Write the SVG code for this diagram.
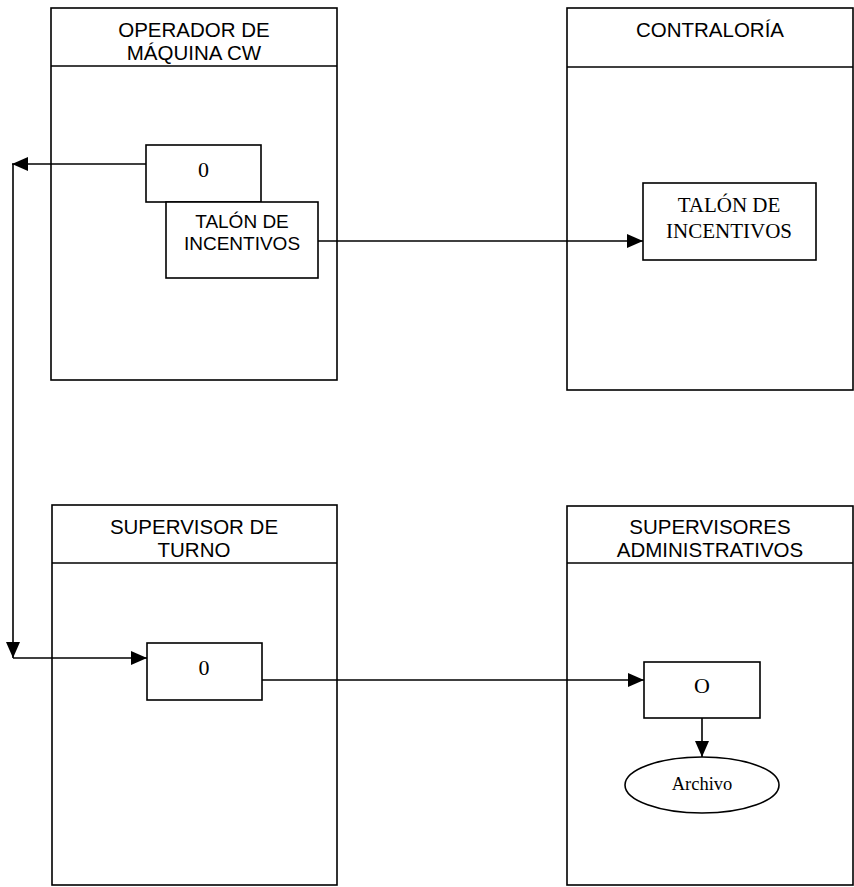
<svg xmlns="http://www.w3.org/2000/svg" width="854" height="887" viewBox="0 0 854 887">
<defs>
<marker id="ah" viewBox="0 0 16 14" refX="16" refY="7" markerWidth="16" markerHeight="14" markerUnits="userSpaceOnUse" orient="auto">
<path d="M0,0 L16,7 L0,14 Z" fill="#000"/>
</marker>
</defs>
<style>
.pan{fill:#fff;stroke:#000;stroke-width:1.6}
.box{fill:#fff;stroke:#000;stroke-width:1.6}
.hd{font-family:"Liberation Sans",Arial,sans-serif;font-size:20.5px;text-anchor:middle;fill:#000}
.sa{font-family:"Liberation Sans",Arial,sans-serif;font-size:19px;text-anchor:middle;fill:#000}
.tm{font-family:"Liberation Serif","Times New Roman",serif;text-anchor:middle;fill:#000}
.ln{fill:none;stroke:#000;stroke-width:1.6}
</style>
<rect width="854" height="887" fill="#fff"/>
<g id="lane-operador">
<rect class="pan" x="51" y="8" width="286" height="372"/>
<line class="ln" x1="51" y1="66" x2="337" y2="66"/>
<text class="hd" x="194" y="37">OPERADOR DE</text>
<text class="hd" x="194" y="60">MÁQUINA CW</text>
</g>
<g id="lane-contraloria">
<rect class="pan" x="567" y="8" width="286" height="382"/>
<line class="ln" x1="567" y1="67" x2="853" y2="67"/>
<text class="hd" x="710" y="37">CONTRALORÍA</text>
</g>
<g id="lane-supervisor-turno">
<rect class="pan" x="52" y="505" width="285" height="380"/>
<line class="ln" x1="52" y1="563" x2="337" y2="563"/>
<text class="hd" x="194" y="534">SUPERVISOR DE</text>
<text class="hd" x="194" y="557">TURNO</text>
</g>
<g id="lane-supervisores-adm">
<rect class="pan" x="567" y="506" width="286" height="379"/>
<line class="ln" x1="567" y1="563" x2="853" y2="563"/>
<text class="hd" x="710" y="534">SUPERVISORES</text>
<text class="hd" x="710" y="557">ADMINISTRATIVOS</text>
</g>
<g id="connectors">
<line class="ln" x1="146" y1="164" x2="12" y2="164" marker-end="url(#ah)"/>
<line class="ln" x1="13" y1="164" x2="13" y2="658" marker-end="url(#ah)"/>
<line class="ln" x1="13" y1="658" x2="147" y2="658" marker-end="url(#ah)"/>
<line class="ln" x1="318" y1="241" x2="643" y2="241" marker-end="url(#ah)"/>
<line class="ln" x1="262" y1="680" x2="644" y2="680" marker-end="url(#ah)"/>
<line class="ln" x1="702" y1="718" x2="702" y2="757" marker-end="url(#ah)"/>
</g>
<g id="doc-0-operador">
<rect class="box" x="146" y="145" width="115" height="57"/>
<text class="tm" x="203.5" y="177" font-size="22">0</text>
</g>
<g id="talon-operador">
<rect class="box" x="166" y="202" width="152" height="76"/>
<text class="sa" x="242" y="228">TALÓN DE</text>
<text class="sa" x="242" y="250">INCENTIVOS</text>
</g>
<g id="talon-contraloria">
<rect class="box" x="643" y="183" width="173" height="77"/>
<text class="tm" x="729" y="212" font-size="21">TALÓN DE</text>
<text class="tm" x="729" y="238" font-size="21">INCENTIVOS</text>
</g>
<g id="doc-0-turno">
<rect class="box" x="147" y="643" width="115" height="57"/>
<text class="tm" x="204" y="675" font-size="22">0</text>
</g>
<g id="doc-o-adm">
<rect class="box" x="644" y="662" width="116" height="56"/>
<text class="tm" x="702" y="693" font-size="22">O</text>
</g>
<g id="archivo">
<ellipse cx="702" cy="785" rx="77" ry="28" fill="#fff" stroke="#000" stroke-width="1.6"/>
<text class="tm" x="702" y="790" font-size="18.5">Archivo</text>
</g>
</svg>
